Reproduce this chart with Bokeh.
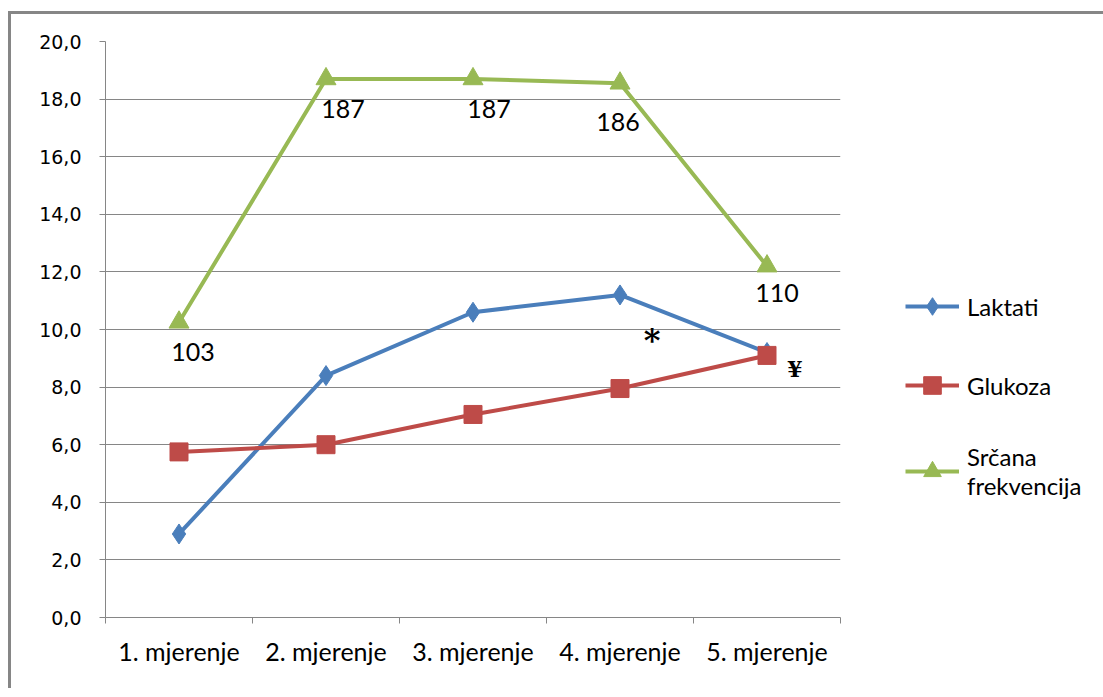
from bokeh.plotting import figure
from bokeh.models import (ColumnDataSource, FixedTicker, Legend, LegendItem,
                          LabelSet, Label)
from bokeh.core.properties import value
from bokeh.embed import file_html
from bokeh.resources import INLINE

# ---- data ----
categories = ["1. mjerenje", "2. mjerenje", "3. mjerenje", "4. mjerenje", "5. mjerenje"]
laktati = [2.9, 8.4, 10.6, 11.2, 9.2]
glukoza = [5.75, 6.0, 7.05, 7.95, 9.1]
srcana = [10.25, 18.7, 18.7, 18.55, 12.2]          # heart rate / 10 as plotted
srcana_labels = ["103", "187", "187", "186", "110"]
y_ticks = [0, 2, 4, 6, 8, 10, 12, 14, 16, 18, 20]
y_tick_labels = ["0,0", "2,0", "4,0", "6,0", "8,0", "10,0", "12,0", "14,0", "16,0", "18,0", "20,0"]
series_names = ["Laktati", "Glukoza", "Srčana\nfrekvencija"]

xs = list(range(1, len(categories) + 1))

BLUE = "#4A7EBB"
RED = "#BE4B48"
GREEN = "#98B954"
GRID = "#868686"

p = figure(frame_width=735, frame_height=576,
           min_border_left=94, min_border_right=255,
           min_border_top=27, min_border_bottom=74,
           x_range=(0.5, len(categories) + 0.5), y_range=(0, 20),
           output_backend="svg", toolbar_location=None,
           background_fill_color="white", border_fill_color="white")
p.outline_line_color = None
p.margin = (14, 0, 0, 11)
p.styles = {"box-shadow": "-3px -3px 0px 0px #868686"}

# axes
p.yaxis.ticker = FixedTicker(ticks=y_ticks)
p.yaxis.major_label_overrides = {t: l for t, l in zip(y_ticks, y_tick_labels)}
p.yaxis.major_label_text_font = "DejaVu Sans"
p.yaxis.major_label_text_font_size = "19px"
p.yaxis.major_label_text_color = "#000000"
p.yaxis.major_label_standoff = 18
p.yaxis.axis_line_color = GRID
p.yaxis.major_tick_line_color = GRID
p.yaxis.major_tick_out = 6
p.yaxis.major_tick_in = 0
p.yaxis.minor_tick_line_color = None

p.xaxis.ticker = FixedTicker(ticks=xs, minor_ticks=[x - 0.5 for x in xs] + [xs[-1] + 0.5])
p.xaxis.major_label_overrides = {x: c for x, c in zip(xs, categories)}
p.xaxis.major_label_text_font = "Lato"
p.xaxis.major_label_text_font_size = "25px"
p.xaxis.major_label_text_color = "#000000"
p.xaxis.major_label_standoff = 12
p.xaxis.axis_line_color = GRID
p.xaxis.major_tick_line_color = None
p.xaxis.minor_tick_line_color = GRID
p.xaxis.minor_tick_out = 6
p.xaxis.minor_tick_in = 0

p.xgrid.grid_line_color = None
p.ygrid.ticker = FixedTicker(ticks=y_ticks)
p.ygrid.grid_line_color = GRID
p.ygrid.grid_line_width = 1

src = ColumnDataSource(dict(x=xs, lak=laktati, glu=glukoza, hr=srcana,
                            hrlab=srcana_labels,
                            dx=[14, 17, 16, -2, 10], dy=[-30, -30, -30, -39, -27]))

l1 = p.line("x", "lak", source=src, color=BLUE, line_width=4)
m1 = p.scatter("x", "lak", source=src, marker="diamond", size=20,
               fill_color=BLUE, line_color=BLUE)
l2 = p.line("x", "glu", source=src, color=RED, line_width=4)
m2 = p.scatter("x", "glu", source=src, marker="square", size=18,
               fill_color=RED, line_color=RED)
l3 = p.line("x", "hr", source=src, color=GREEN, line_width=4)
m3 = p.scatter("x", "hr", source=src, marker="triangle", size=20,
               fill_color=GREEN, line_color=GREEN)

labels = LabelSet(x="x", y="hr", text="hrlab", source=src,
                  x_offset="dx", y_offset="dy",
                  text_align="center", text_baseline="middle",
                  text_font=value("Lato"), text_font_size="25px",
                  text_color="#000000")
p.add_layout(labels)

p.add_layout(Label(x=xs[3], y=laktati[3], x_offset=32, y_offset=-45, text="*",
                   text_font="DejaVu Serif", text_font_style="bold",
                   text_font_size="32px", text_color="#000000",
                   text_align="center", text_baseline="middle"))
p.add_layout(Label(x=xs[4], y=glukoza[4], x_offset=28, y_offset=-14, text="¥",
                   text_font="DejaVu Serif", text_font_style="bold",
                   text_font_size="22px", text_color="#000000",
                   text_align="center", text_baseline="middle"))

legend = Legend(items=[LegendItem(label=series_names[0], renderers=[l1, m1]),
                       LegendItem(label=series_names[1], renderers=[l2, m2]),
                       LegendItem(label=series_names[2], renderers=[l3, m3])],
                location=(65, 117), orientation="vertical",
                border_line_color=None, background_fill_alpha=0,
                padding=0, margin=0, spacing=35,
                glyph_width=54, glyph_height=44, label_height=26,
                label_standoff=8,
                label_text_font="Lato", label_text_font_size="24px",
                label_text_color="#000000")
p.add_layout(legend, "right")

open("out.html", "w").write(file_html(p, INLINE))
